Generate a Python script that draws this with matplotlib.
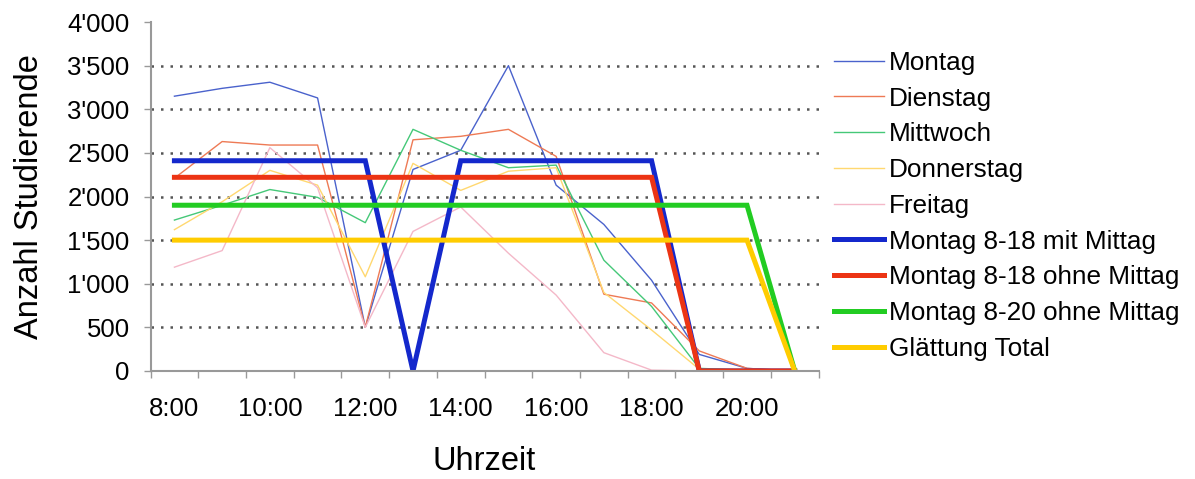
import matplotlib
matplotlib.use('Agg')
import matplotlib.pyplot as plt
from matplotlib.ticker import FuncFormatter, FixedLocator

plt.rcParams['font.family'] = ['Liberation Sans', 'DejaVu Sans']

hours = ['8:00', '9:00', '10:00', '11:00', '12:00', '13:00', '14:00',
         '15:00', '16:00', '17:00', '18:00', '19:00', '20:00', '21:00']

montag = [3150, 3240, 3310, 3130, 500, 2310, 2530, 3500, 2130, 1680, 1040, 190, 30, 0]
dienstag = [2210, 2630, 2590, 2590, 500, 2650, 2690, 2770, 2460, 880, 780, 230, 30, 0]
mittwoch = [1730, 1900, 2080, 1990, 1700, 2770, 2530, 2330, 2360, 1270, 740, 30, 10, 0]
donnerstag = [1620, 1940, 2300, 2130, 1080, 2380, 2070, 2290, 2330, 900, 470, 20, 10, 0]
freitag = [1190, 1380, 2560, 2100, 500, 1600, 1880, 1350, 870, 210, 10, 0, 0, 0]

mit_mittag = [2410, 2410, 2410, 2410, 2410, 0, 2410, 2410, 2410, 2410, 2410, 0, 0, 0]
ohne_mittag_18 = [2220, 2220, 2220, 2220, 2220, 2220, 2220, 2220, 2220, 2220, 2220, 0, 0, 0]
ohne_mittag_20 = [1900, 1900, 1900, 1900, 1900, 1900, 1900, 1900, 1900, 1900, 1900, 1900, 1900, 0]
glaettung = [1500, 1500, 1500, 1500, 1500, 1500, 1500, 1500, 1500, 1500, 1500, 1500, 1500, 0]

thin = [
    ('Montag', montag, '#4a62cc'),
    ('Dienstag', dienstag, '#ee7a55'),
    ('Mittwoch', mittwoch, '#45c878'),
    ('Donnerstag', donnerstag, '#ffd870'),
    ('Freitag', freitag, '#f4b8c8'),
]
thick = [
    ('Montag 8-18 mit Mittag', mit_mittag, '#1428cc'),
    ('Montag 8-18 ohne Mittag', ohne_mittag_18, '#ec3414'),
    ('Montag 8-20 ohne Mittag', ohne_mittag_20, '#22cc22'),
    ('Glättung Total', glaettung, '#ffcc00'),
]

fig = plt.figure(figsize=(11.95, 4.79), dpi=100)
ax = fig.add_axes([0.126, 0.2255, 0.559, 0.7285])

x = list(range(len(hours)))
for name, vals, col in thin:
    ax.plot(x, vals, color=col, lw=1.0, label=name)
for name, vals, col in thick:
    ax.plot(x, vals, color=col, lw=3.6, label=name, solid_joinstyle='miter')

ax.set_xlim(-0.5, len(hours) - 0.5)
ax.set_ylim(0, 4000)

ax.set_yticks(range(0, 4001, 500))
ax.yaxis.set_major_formatter(FuncFormatter(lambda v, p: format(int(v), ',').replace(',', "'")))
# dotted grid lines, none at the top
for yv in range(500, 4000, 500):
    ax.axhline(yv, color='#555555', linestyle=(0, (1, 2.8)), lw=1.8, zorder=0.5)

# tick marks between categories, labels every second hour
ax.xaxis.set_major_locator(FixedLocator([i + 0.5 for i in range(-1, len(hours))]))
ax.xaxis.set_major_formatter(FuncFormatter(lambda v, p: ''))
ax.xaxis.set_minor_locator(FixedLocator(x[::2]))
ax.set_xticklabels(hours[::2], minor=True)
ax.tick_params(axis='x', which='minor', length=0, pad=19, labelsize=18.5)
ax.tick_params(axis='x', which='major', length=5, color='#999999', width=1)
ax.tick_params(axis='y', length=5, color='#999999', width=1, labelsize=18.5, pad=10)

for s in ['top', 'right']:
    ax.spines[s].set_visible(False)
for s in ['left', 'bottom']:
    ax.spines[s].set_color('#999999')
    ax.spines[s].set_linewidth(1.5)

ax.set_ylabel('Anzahl Studierende', fontsize=23.5, labelpad=16)
ax.set_xlabel('Uhrzeit', fontsize=23.5, labelpad=18)

fig.legend(loc='upper left', bbox_to_anchor=(0.698, 0.894), frameon=False,
           fontsize=18.8, handlelength=1.9, handletextpad=0.2, labelspacing=0.45,
           borderaxespad=0, borderpad=0)

fig.savefig('out.png', dpi=100)
